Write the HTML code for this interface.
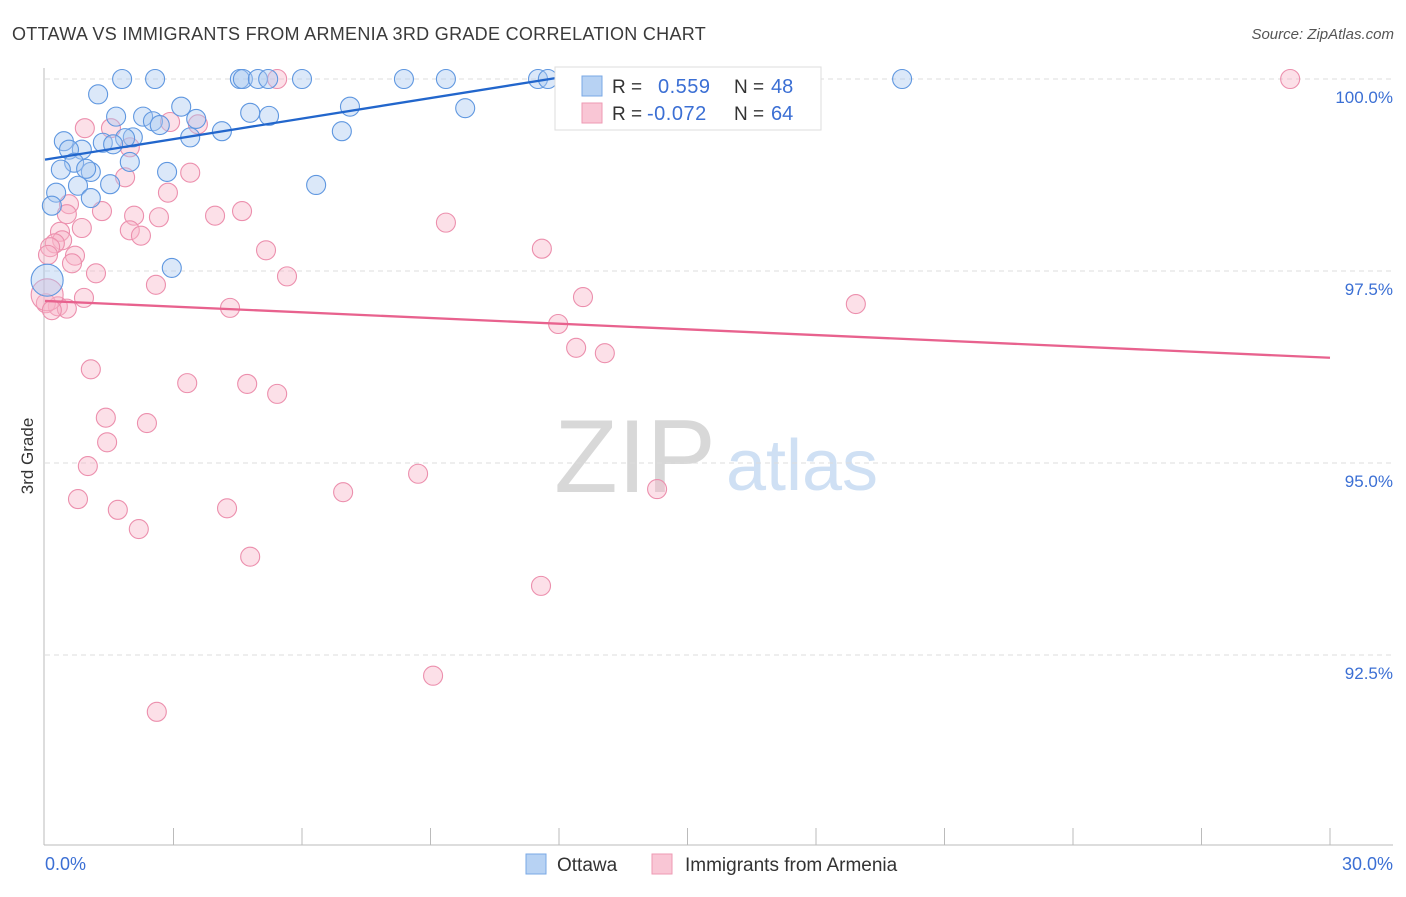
<!DOCTYPE html>
<html><head><meta charset="utf-8"><style>
body{margin:0;background:#fff;font-family:"Liberation Sans",sans-serif}
svg text{font-family:"Liberation Sans",sans-serif}
</style></head><body>
<svg id="chart" width="1406" height="892" xmlns="http://www.w3.org/2000/svg">
<text x="12" y="40" font-size="18" fill="#3a3a3a" letter-spacing="0.3">OTTAWA VS IMMIGRANTS FROM ARMENIA 3RD GRADE CORRELATION CHART</text>
<text x="1394" y="39" font-size="15" fill="#555" font-style="italic" text-anchor="end">Source: ZipAtlas.com</text>
<text transform="translate(33,456) rotate(-90)" font-size="17" fill="#333" text-anchor="middle">3rd Grade</text>
<g><text x="635" y="492" font-size="104" fill="#d8d8d8" font-family="Liberation Serif" text-anchor="middle">ZIP</text><text x="802" y="490" font-size="72" fill="#cfe0f4" text-anchor="middle">atlas</text></g>
<g id="grid"></g><g id="axes"></g><g id="pts"></g><g id="trend"></g>
<g>
<rect x="555" y="67" width="266" height="63" fill="#fff" stroke="#ddd"/>
<rect x="582" y="76" width="20" height="20" fill="#b7d2f3" stroke="#7aa8e6"/>
<text x="612" y="93" font-size="19" fill="#333">R =</text><text x="658" y="93" font-size="20" fill="#3b6fd4" letter-spacing="0.5">0.559</text>
<text x="734" y="93" font-size="19" fill="#333">N =</text><text x="771" y="93" font-size="20" fill="#3b6fd4">48</text>
<rect x="582" y="103" width="20" height="20" fill="#f9c6d5" stroke="#ee9ab3"/>
<text x="612" y="120" font-size="19" fill="#333">R =</text><text x="647" y="120" font-size="20" fill="#3b6fd4" letter-spacing="0.5">-0.072</text>
<text x="734" y="120" font-size="19" fill="#333">N =</text><text x="771" y="120" font-size="20" fill="#3b6fd4">64</text>
</g>
<g>
<rect x="526" y="854" width="20" height="20" fill="#b7d2f3" stroke="#7aa8e6"/>
<text x="557" y="871" font-size="19" fill="#333">Ottawa</text>
<rect x="652" y="854" width="20" height="20" fill="#f9c6d5" stroke="#ee9ab3"/>
<text x="685" y="871" font-size="19" fill="#333">Immigrants from Armenia</text>
</g>
</svg>
<script>
const yTicks=[100,97.5,95,92.5];
const yTickLabels=["100.0%","97.5%","95.0%","92.5%"];
const xTickLabels=["0.0%","30.0%"];
const blueX=[1.80,2.57,4.55,4.62,4.97,5.21,6.00,8.38,9.36,11.51,11.74,12.91,20.01,1.24,3.18,9.81,7.12,1.66,2.29,2.52,2.68,3.53,4.79,5.23,4.13,3.39,6.93,0.44,2.05,1.87,1.35,1.59,0.86,0.56,0.68,1.98,0.37,1.07,0.96,2.85,0.77,1.52,0.26,1.07,6.33,0.16,2.96,0.05];
const blueY=[100,100,100,100,100,100,100,100,100,100,100,100,100,99.80,99.64,99.62,99.64,99.51,99.51,99.45,99.40,99.48,99.56,99.52,99.32,99.24,99.32,99.19,99.24,99.23,99.17,99.15,99.08,99.08,98.91,98.92,98.82,98.79,98.83,98.79,98.61,98.63,98.52,98.45,98.62,98.35,97.54,97.38];
const pinkX=[5.42,29.07,0.93,1.54,2.92,3.57,1.98,1.87,3.39,2.87,0.56,0.51,1.33,2.08,2.66,3.97,4.60,9.36,0.86,1.98,2.24,0.35,0.40,0.23,0.12,0.07,0.70,0.63,5.16,11.60,1.19,5.65,2.59,0.91,12.56,18.93,0.30,0.51,4.32,0.02,11.98,12.40,13.07,1.07,3.32,4.72,5.42,1.42,2.38,1.45,1.00,8.71,6.96,14.29,0.77,1.70,4.25,2.19,4.79,11.58,9.06,2.61,0.05,0.16];
const pinkY=[100,100,99.36,99.36,99.44,99.41,99.11,98.72,98.78,98.52,98.37,98.24,98.28,98.22,98.20,98.22,98.28,98.13,98.06,98.03,97.96,98.01,97.90,97.86,97.81,97.71,97.70,97.60,97.77,97.79,97.47,97.43,97.32,97.15,97.16,97.07,97.04,97.01,97.02,97.08,96.81,96.50,96.43,96.22,96.04,96.03,95.90,95.59,95.52,95.27,94.96,94.86,94.62,94.66,94.53,94.39,94.41,94.14,93.78,93.40,92.23,91.76,97.19,96.99];
const blueTrendX=[0,11.9], blueTrendY=[98.95,100.01];
const pinkTrendX=[0,30], pinkTrendY=[97.11,96.37];
const NS="http://www.w3.org/2000/svg";
const sx=v=>45+v/30*1285, sy=v=>79+(100-v)/2.5*192;
function mk(tag,at,parent){const e=document.createElementNS(NS,tag);for(const k in at)e.setAttribute(k,at[k]);parent.appendChild(e);return e;}
const grid=document.getElementById('grid'),axes=document.getElementById('axes');
yTicks.forEach((t,i)=>{
 const l=mk('line',{x1:45,x2:1393,y1:sy(t),y2:sy(t),stroke:'#ddd','stroke-dasharray':'5,4'},grid);
 
 
 const tx=mk('text',{x:1393,y:sy(t)+24,'font-size':17,fill:'#3b6fd4','text-anchor':'end'},axes);
 tx.textContent=yTickLabels[i];
 
 
});
let a=mk('line',{x1:44,x2:44,y1:68,y2:845,stroke:'#bbb'},axes);


a=mk('line',{x1:44,x2:1393,y1:845,y2:845,stroke:'#bbb'},axes);


for(let i=1;i<=10;i++){const x=sx(i*3);const t=mk('line',{x1:x,x2:x,y1:828,y2:845,stroke:'#bbb'},axes);
 
 }
[[0,'start',45],[30,'end',1393]].forEach((d,i)=>{const t=mk('text',{x:d[2],y:870,'font-size':18,fill:'#3b6fd4','text-anchor':d[1]},axes);t.textContent=xTickLabels[i];
 
 });
const pts=document.getElementById('pts');
function draw(X,Y,fill,stroke,name){X.forEach((x,i)=>{const big=(x<0.1&&(Y[i]>97.1&&Y[i]<97.45));
 const c=mk('circle',{cx:sx(x),cy:sy(Y[i]),r:big?16:9.5,fill:fill,'fill-opacity':0.42,stroke:stroke,'stroke-width':1.1},pts);
 
 });}
draw(pinkX,pinkY,'#f7b6c9','#ec8fad','armenia-point');
draw(blueX,blueY,'#a9c9f1','#5f97e0','ottawa-point');
const tr=document.getElementById('trend');
let l=mk('line',{x1:sx(blueTrendX[0]),y1:sy(blueTrendY[0]),x2:sx(blueTrendX[1]),y2:sy(blueTrendY[1]),stroke:'#2266cc','stroke-width':2.3},tr);


l=mk('line',{x1:sx(pinkTrendX[0]),y1:sy(pinkTrendY[0]),x2:sx(pinkTrendX[1]),y2:sy(pinkTrendY[1]),stroke:'#e8628e','stroke-width':2.3},tr);


</script>
</body></html>
